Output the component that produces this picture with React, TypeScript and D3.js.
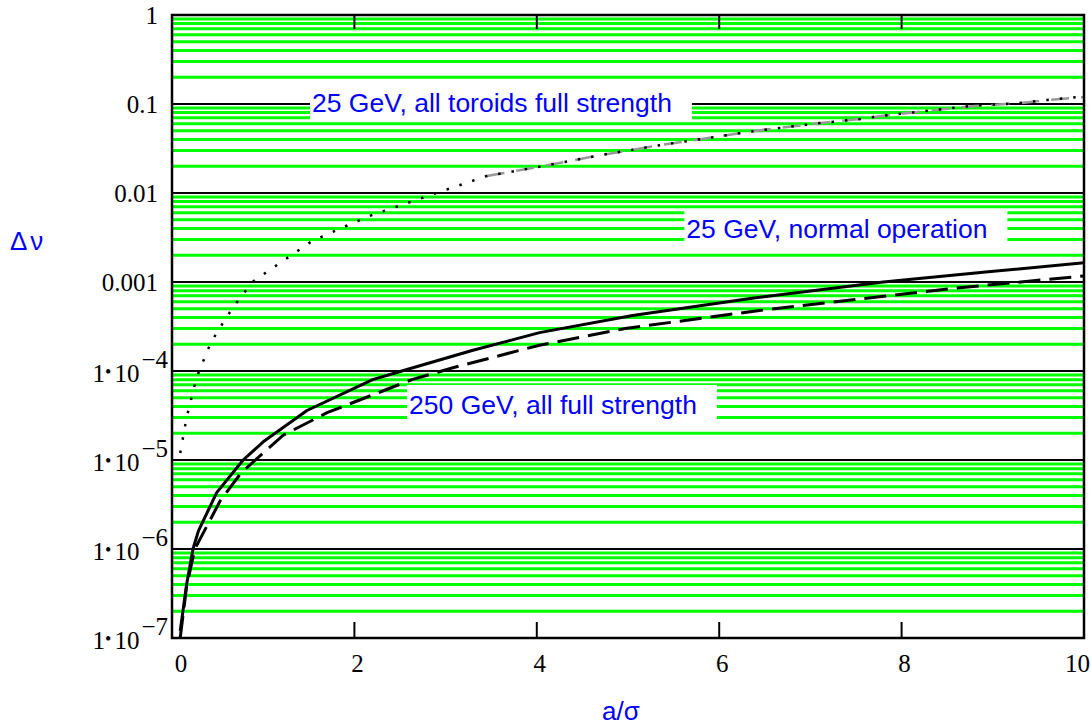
import React, { useEffect, useRef } from 'react';
import * as d3 from 'd3';

const W = 1091;
const H = 726;

// 25 GeV, all toroids full strength (black dotted)
const aToroids = [0.09, 0.16, 0.27, 0.4, 0.49, 0.67, 0.88, 1.17, 1.54, 2.14, 2.9, 3.45, 4.0, 4.73, 5.39, 5.98, 6.34, 7.04, 7.55, 7.8, 8.8, 9.28, 9.6, 10];
const vToroids = [1.2e-5, 3.0e-5, 8.5e-5, 1.8e-4, 2.7e-4, 5.2e-4, 1.0e-3, 1.6e-3, 2.9e-3, 5.4e-3, 1.0e-2, 1.55e-2, 1.95e-2, 2.7e-2, 3.5e-2, 4.3e-2, 4.9e-2, 6.0e-2, 6.8e-2, 7.4e-2, 9.6e-2, 0.102, 0.111, 0.122];
// same case, second trace (grey dashed)
const aToroidsB = [3.45, 4.0, 4.73, 5.39, 5.98, 6.34, 7.04, 7.55, 7.8, 8.8, 9.28, 9.6, 10];
const vToroidsB = [1.55e-2, 1.95e-2, 2.7e-2, 3.5e-2, 4.3e-2, 4.9e-2, 6.0e-2, 6.8e-2, 7.4e-2, 9.5e-2, 0.102, 0.111, 0.12];

// 25 GeV, normal operation (solid)
const aNormal = [0.09, 0.16, 0.23, 0.29, 0.49, 0.78, 1.0, 1.48, 2.2, 2.52, 3.29, 4.03, 5.05, 6.38, 7.8, 8.95, 10];
const vNormal = [1.2e-7, 4e-7, 1e-6, 1.6e-6, 4.3e-6, 1e-5, 1.6e-5, 3.6e-5, 8e-5, 1e-4, 1.7e-4, 2.7e-4, 4.2e-4, 6.6e-4, 1e-3, 1.3e-3, 1.65e-3];

// 250 GeV, all full strength (dashed)
const aHigh = [0.09, 0.16, 0.25, 0.53, 0.75, 0.89, 1.22, 1.7, 2.63, 3.1, 4.03, 4.97, 6.38, 8.57, 10];
const vHigh = [1.0e-7, 3.8e-7, 1e-6, 3.5e-6, 7e-6, 9.5e-6, 1.9e-5, 3.4e-5, 8e-5, 1.1e-4, 1.95e-4, 3e-4, 4.7e-4, 8.5e-4, 1.17e-3];

const xTicks = [0, 2, 4, 6, 8, 10];
const yDecades = [1, 0.1, 0.01, 0.001, 1e-4, 1e-5, 1e-6, 1e-7];
const yPlainLabels = ['1', '0.1', '0.01', '0.001'];
const yExpLabels = ['−4', '−5', '−6', '−7'];

const noteTexts = ['25 GeV, all toroids full strength', '25 GeV, normal operation', '250 GeV, all full strength'];
const noteA = [1.535, 5.64, 2.6];
const noteV = [0.0813, 3.12e-3, 3.29e-5];

const serif = '"Liberation Serif", "Times New Roman", serif';
const sans = '"Liberation Sans", Arial, sans-serif';

const TuneShiftChart = () => {
  const svgRef = useRef<SVGSVGElement>(null);

  useEffect(() => {
    const svg = d3.select(svgRef.current);
    svg.selectAll('*').remove();

    const x = d3.scaleLinear().domain([0, 10]).range([172, 1084]);
    const y = d3.scaleLog().domain([1e-7, 1]).range([638, 15]);
    const [x0, x1] = x.range();

    // minor grid 2..9 in each decade
    const minors: number[] = [];
    for (let d = -7; d < 0; d++) {
      for (let k = 2; k <= 9; k++) minors.push(k * Math.pow(10, d));
    }
    svg.append('g')
      .selectAll('line')
      .data(minors)
      .join('line')
      .attr('x1', x0).attr('x2', x1)
      .attr('y1', d => y(d)).attr('y2', d => y(d))
      .attr('stroke', '#00ff00')
      .attr('stroke-width', 3);

    svg.append('g')
      .selectAll('line')
      .data(yDecades)
      .join('line')
      .attr('x1', x0).attr('x2', x1)
      .attr('y1', d => y(d)).attr('y2', d => y(d))
      .attr('stroke', '#000')
      .attr('stroke-width', 2);

    // annotations on white boxes
    noteTexts.forEach((t, i) => {
      const g = svg.append('g');
      const rect = g.append('rect').attr('fill', '#fff');
      const tx = x(noteA[i]);
      const ty = y(noteV[i]);
      const text = g.append('text')
        .attr('x', tx).attr('y', ty)
        .attr('font-family', sans)
        .attr('font-size', 26.5)
        .attr('fill', '#0000ff')
        .text(t);
      const w = (text.node() as SVGTextElement).getComputedTextLength();
      rect.attr('x', tx - 2).attr('y', ty - 29).attr('width', w + 22).attr('height', 37);
    });

    // curves
    const line = d3.line<[number, number]>()
      .x(d => x(d[0]))
      .y(d => y(d[1]));
    const pts = (a: number[], v: number[]) => a.map((ai, i) => [ai, v[i]] as [number, number]);

    svg.append('path')
      .attr('d', line(pts(aToroidsB, vToroidsB)))
      .attr('fill', 'none')
      .attr('stroke', '#999')
      .attr('stroke-width', 2.5)
      .attr('stroke-dasharray', '18,12');

    svg.append('path')
      .attr('d', line(pts(aToroids, vToroids)))
      .attr('fill', 'none')
      .attr('stroke', '#000')
      .attr('stroke-width', 2.5)
      .attr('stroke-dasharray', '2.5,11');

    svg.append('path')
      .attr('d', line(pts(aNormal, vNormal)))
      .attr('fill', 'none')
      .attr('stroke', '#000')
      .attr('stroke-width', 3)
      .attr('stroke-linejoin', 'round');

    svg.append('path')
      .attr('d', line(pts(aHigh, vHigh)))
      .attr('fill', 'none')
      .attr('stroke', '#000')
      .attr('stroke-width', 3)
      .attr('stroke-dasharray', '22,9');

    // frame
    svg.append('rect')
      .attr('x', x0).attr('y', y(1))
      .attr('width', x1 - x0).attr('height', y(1e-7) - y(1))
      .attr('fill', 'none')
      .attr('stroke', '#000')
      .attr('stroke-width', 2.5);

    // ticks top and bottom
    const inner = xTicks.slice(1, -1);
    svg.append('g')
      .selectAll('line.top')
      .data(inner)
      .join('line')
      .attr('x1', d => x(d)).attr('x2', d => x(d))
      .attr('y1', y(1)).attr('y2', y(1) + 14)
      .attr('stroke', '#000').attr('stroke-width', 2);
    svg.append('g')
      .selectAll('line.bottom')
      .data(inner)
      .join('line')
      .attr('x1', d => x(d)).attr('x2', d => x(d))
      .attr('y1', y(1e-7)).attr('y2', y(1e-7) - 16)
      .attr('stroke', '#000').attr('stroke-width', 2);

    // x tick labels
    svg.append('g')
      .selectAll('text')
      .data(xTicks)
      .join('text')
      .attr('x', (d, i) => (i === xTicks.length - 1 ? 1090 : x(d) + (i === 0 ? 9 : 3)))
      .attr('y', 672)
      .attr('text-anchor', (d, i) => (i === xTicks.length - 1 ? 'end' : 'middle'))
      .attr('font-family', serif)
      .attr('font-size', 25)
      .attr('fill', '#000')
      .text(d => String(d));

    // y tick labels
    yDecades.forEach((v, i) => {
      const yy = y(v);
      if (i < yPlainLabels.length) {
        svg.append('text')
          .attr('x', 158).attr('y', yy + 9)
          .attr('text-anchor', 'end')
          .attr('font-family', serif)
          .attr('font-size', 25)
          .text(yPlainLabels[i]);
      } else {
        const t = svg.append('text')
          .attr('x', 168).attr('y', yy + 11)
          .attr('text-anchor', 'end')
          .attr('font-family', serif)
          .attr('font-size', 25);
        t.append('tspan').text('1');
        t.append('tspan').attr('font-size', 18).attr('dy', -4).text('•');
        t.append('tspan').attr('dy', 4).attr('dx', 3).text('10');
        t.append('tspan').attr('dy', -14).attr('dx', 2).text(yExpLabels[i - yPlainLabels.length]);
      }
    });

    // axis titles
    svg.append('text')
      .attr('x', 10).attr('y', 250)
      .attr('font-family', sans)
      .attr('font-size', 26)
      .attr('letter-spacing', 3)
      .attr('fill', '#0000ff')
      .text('Δν');
    svg.append('text')
      .attr('x', 602).attr('y', 720)
      .attr('font-family', sans)
      .attr('font-size', 26)
      .attr('fill', '#0000ff')
      .text('a/σ');
  }, []);

  return (
    <svg
      ref={svgRef}
      width={W}
      height={H}
      style={{ position: 'absolute', left: 0, top: 0, background: '#fff' }}
    />
  );
};

export default function App() {
  return <TuneShiftChart />;
}
